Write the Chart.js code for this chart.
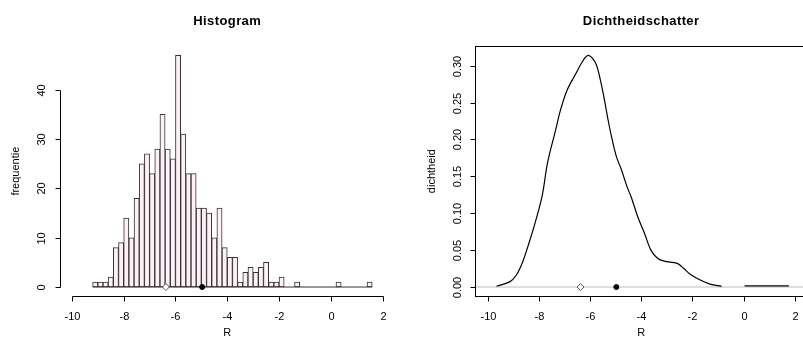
<!DOCTYPE html>
<html>
<head>
<meta charset="utf-8">
<script src="https://cdn.jsdelivr.net/npm/chart.js@4/dist/chart.umd.min.js"></script>
<style>
  html, body { margin: 0; padding: 0; background: #fff; overflow: hidden; width: 803px; height: 347px; }
  #wrap { position: relative; width: 803px; height: 347px; overflow: hidden; }
  canvas { position: absolute; top: 0; }
  #hist-chart { left: 0; }
  #dens-chart { left: 400px; }
</style>
</head>
<body>
<div id="wrap">
  <canvas id="hist-chart" width="400" height="347"></canvas>
  <canvas id="dens-chart" width="412" height="347"></canvas>
</div>
<script>
// histogram bins (midpoints, width 0.2) and counts
const binMid = [-9.1, -8.9, -8.7, -8.5, -8.3, -8.1, -7.9, -7.7, -7.5, -7.3, -7.1, -6.9, -6.7, -6.5, -6.3, -6.1,
  -5.9, -5.7, -5.5, -5.3, -5.1, -4.9, -4.7, -4.5, -4.3, -4.1, -3.9, -3.7, -3.5, -3.3, -3.1, -2.9, -2.7, -2.5,
  -2.3, -2.1, -1.9, -1.7, -1.5, -1.3, -1.1, -0.9, -0.7, -0.5, -0.3, -0.1, 0.1, 0.3, 0.5, 0.7, 0.9, 1.1, 1.3, 1.5];
const binCount = [1, 1, 1, 2, 8, 9, 14, 10, 18, 25, 27, 23, 28, 35, 28, 26,
  47, 31, 23, 23, 16, 16, 15, 10, 16, 8, 6, 6, 1, 3, 4, 3, 4, 5,
  1, 1, 2, 0, 0, 1, 0, 0, 0, 0, 0, 0, 0, 1, 0, 0, 0, 0, 0, 1];
const histBaseX = [-9.2, 1.6];

// density estimate
const densX = [-9.65, -9.14, -8.88, -8.63, -8.37, -8.11, -7.86, -7.66, -7.34, -7.15, -6.89, -6.57, -6.25, -6.06,
  -5.80, -5.67, -5.48, -5.29, -5.16, -4.97, -4.77, -4.64, -4.52, -4.39, -4.13, -3.87, -3.62, -3.36, -3.10,
  -2.59, -2.33, -2.07, -1.69, -1.31, -0.86];
const densY = [0.001, 0.007, 0.016, 0.034, 0.061, 0.091, 0.125, 0.168, 0.213, 0.240, 0.267, 0.288, 0.308, 0.314,
  0.305, 0.292, 0.262, 0.226, 0.204, 0.177, 0.159, 0.145, 0.133, 0.122, 0.095, 0.073, 0.050, 0.039, 0.035,
  0.032, 0.025, 0.017, 0.0095, 0.004, 0.001];
const tailX = [0.04, 1.77];
const tailY = [0.0015, 0.0015];

// markers on the axis
const openMarkX = -6.37;
const fullMarkX = -4.97;

const xTicks = [-10, -8, -6, -4, -2, 0, 2];
const histYTicks = [0, 10, 20, 30, 40];
const densYTicks = [0, 0.05, 0.10, 0.15, 0.20, 0.25, 0.30];

const FONT = '"Liberation Sans", Arial, sans-serif';

const rAxes = {
  id: 'rAxes',
  afterDraw(chart, args, o) {
    const { ctx, chartArea: a, scales: { x, y } } = chart;
    ctx.save();
    ctx.strokeStyle = '#000';
    ctx.fillStyle = '#000';
    ctx.lineWidth = 1;

    // x axis
    const yb = Math.round(a.bottom) + 0.5;
    const xs = o.xTicks.map(v => Math.round(x.getPixelForValue(v)) + 0.5);
    ctx.beginPath();
    ctx.moveTo(xs[0], yb);
    ctx.lineTo(xs[xs.length - 1], yb);
    xs.forEach(px => { ctx.moveTo(px, yb); ctx.lineTo(px, yb + 5); });
    ctx.stroke();
    ctx.font = '11px ' + FONT;
    ctx.textAlign = 'center';
    ctx.textBaseline = 'middle';
    o.xTicks.forEach((v, i) => ctx.fillText(String(v), xs[i], a.bottom + 21));
    ctx.fillText(o.xTitle, (a.left + a.right) / 2, a.bottom + 37);

    // y axis
    const xl = Math.round(a.left) + 0.5;
    const ys = o.yTicks.map(v => Math.round(y.getPixelForValue(v)) + 0.5);
    ctx.beginPath();
    ctx.moveTo(xl, ys[0]);
    ctx.lineTo(xl, ys[ys.length - 1]);
    ys.forEach(py => { ctx.moveTo(xl, py); ctx.lineTo(xl - 5, py); });
    ctx.stroke();
    o.yTicks.forEach((v, i) => {
      ctx.save();
      ctx.translate(a.left - 17.5, ys[i]);
      ctx.rotate(-Math.PI / 2);
      ctx.fillText(o.yFmt(v), 0, 0);
      ctx.restore();
    });
    ctx.save();
    ctx.translate(a.left - 43.5, (a.top + a.bottom) / 2);
    ctx.rotate(-Math.PI / 2);
    ctx.fillText(o.yTitle, 0, 0);
    ctx.restore();

    // box
    if (o.box) {
      ctx.strokeRect(xl, Math.round(a.top) + 0.5, Math.round(a.right - a.left), Math.round(a.bottom - a.top));
    }

    // main title
    ctx.font = 'bold 13px ' + FONT;
    ctx.letterSpacing = '0.4px';
    ctx.fillText(o.title, (a.left + a.right) / 2, 21);
    ctx.restore();
  }
};

const markerSets = (yv) => [
  {
    type: 'scatter',
    data: [{ x: openMarkX, y: yv }],
    pointStyle: 'rectRot',
    pointRadius: 3.5,
    backgroundColor: '#fff',
    borderColor: '#555',
    borderWidth: 1,
    order: 0
  },
  {
    type: 'scatter',
    data: [{ x: fullMarkX, y: yv }],
    pointStyle: 'circle',
    pointRadius: 2.5,
    backgroundColor: '#000',
    borderColor: '#000',
    borderWidth: 1,
    order: 0
  }
];

new Chart('hist-chart', {
  type: 'bar',
  data: {
    datasets: [
      {
        type: 'bar',
        data: binMid.map((m, i) => ({ x: m, y: binCount[i] })),
        backgroundColor: '#fdf0f6',
        borderColor: '#333',
        borderWidth: 1,
        borderSkipped: false,
        barPercentage: 1,
        categoryPercentage: 1,
        order: 2
      },
      {
        type: 'line',
        data: histBaseX.map(v => ({ x: v, y: 0 })),
        borderColor: '#333',
        borderWidth: 1,
        pointRadius: 0,
        order: 1
      },
      ...markerSets(0)
    ]
  },
  options: {
    responsive: false,
    animation: false,
    devicePixelRatio: 1,
    layout: { padding: { left: 59.5, right: 3.5, top: 46, bottom: 50.7 } },
    scales: {
      x: { type: 'linear', min: -10.48, max: 2.48, offset: false, display: false },
      y: { type: 'linear', min: -1.88, max: 48.88, display: false }
    },
    plugins: {
      legend: { display: false },
      tooltip: { enabled: false },
      rAxes: {
        title: 'Histogram', xTitle: 'R', yTitle: 'frequentie',
        xTicks: xTicks, yTicks: histYTicks, yFmt: v => String(v), box: false
      }
    }
  },
  plugins: [rAxes]
});

new Chart('dens-chart', {
  type: 'line',
  data: {
    datasets: [
      {
        data: [{ x: -10.48, y: 0 }, { x: 2.48, y: 0 }],
        borderColor: '#bebebe',
        borderWidth: 1,
        pointRadius: 0,
        order: 3
      },
      {
        data: densX.map((v, i) => ({ x: v, y: densY[i] })),
        borderColor: '#000',
        borderWidth: 1.2,
        pointRadius: 0,
        tension: 0.35,
        order: 1
      },
      {
        data: tailX.map((v, i) => ({ x: v, y: tailY[i] })),
        borderColor: '#000',
        borderWidth: 1.2,
        pointRadius: 0,
        order: 1
      },
      ...markerSets(0)
    ]
  },
  options: {
    responsive: false,
    animation: false,
    devicePixelRatio: 1,
    layout: { padding: { left: 75.3, right: 0.2, top: 46, bottom: 50.7 } },
    scales: {
      x: { type: 'linear', min: -10.48, max: 2.48, display: false },
      y: { type: 'linear', min: -0.01256, max: 0.3266, display: false }
    },
    plugins: {
      legend: { display: false },
      tooltip: { enabled: false },
      rAxes: {
        title: 'Dichtheidschatter', xTitle: 'R', yTitle: 'dichtheid',
        xTicks: xTicks, yTicks: densYTicks, yFmt: v => v.toFixed(2), box: true
      }
    }
  },
  plugins: [rAxes]
});
</script>
</body>
</html>
